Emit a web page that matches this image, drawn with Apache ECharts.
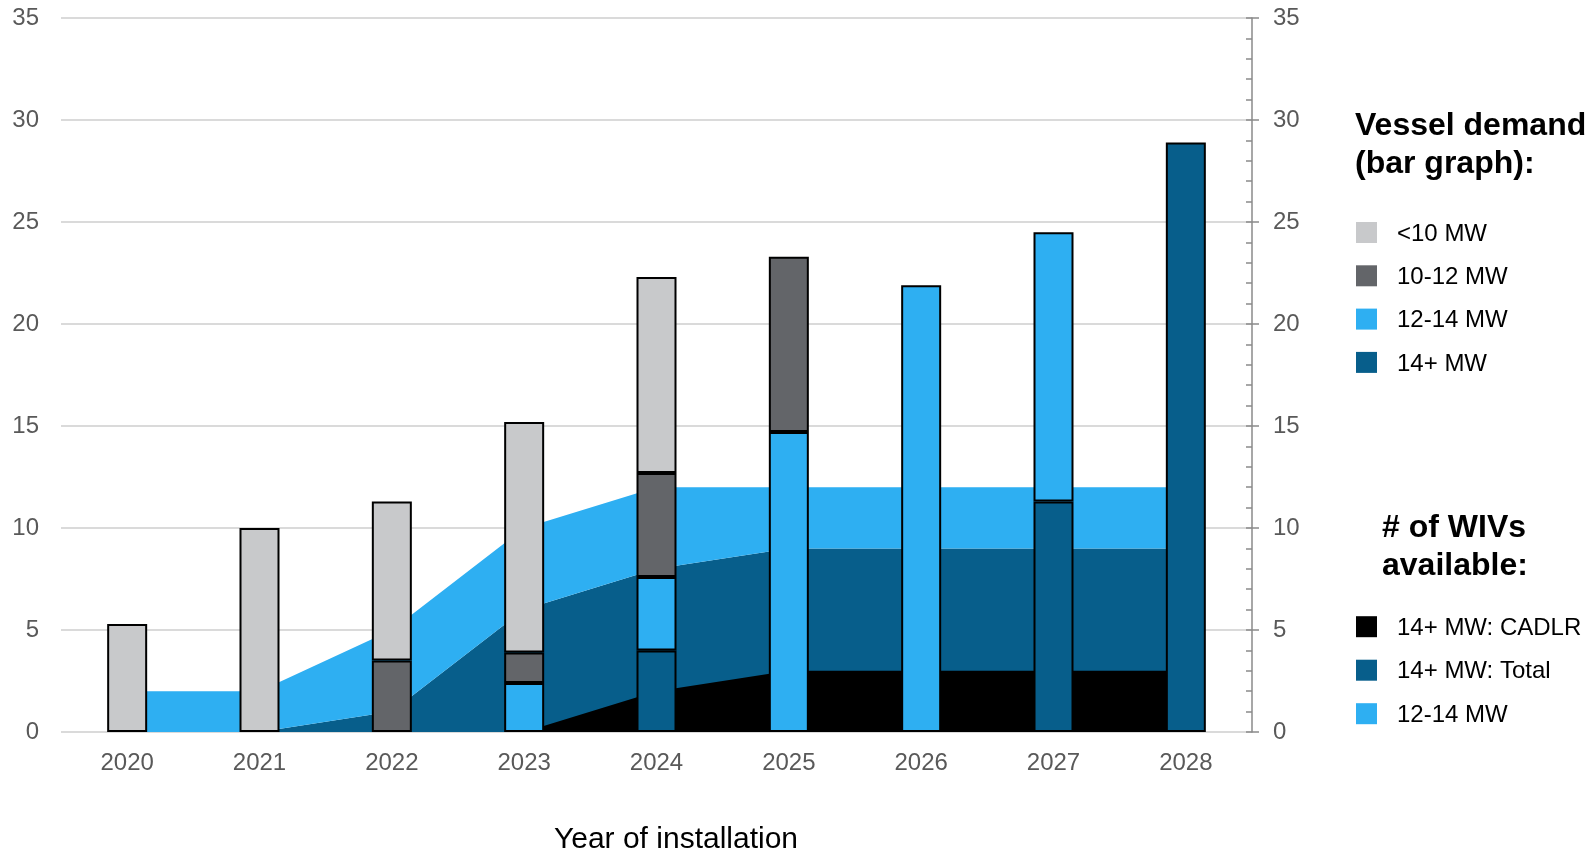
<!DOCTYPE html>
<html>
<head>
<meta charset="utf-8">
<title>Vessel demand vs WIVs available</title>
<script src="https://cdn.jsdelivr.net/npm/echarts@6/dist/echarts.min.js"></script>
<style>
  html, body { margin: 0; padding: 0; background: #ffffff; }
  #chart { width: 1587px; height: 851px; }
</style>
</head>
<body>
<div id="chart"></div>
<script>
// Installation years
const years = ['2020', '2021', '2022', '2023', '2024', '2025', '2026', '2027', '2028'];

// Vessel demand by turbine class (stacked bars); null = no demand in that class
const demandBelow10 = [5.3, 10, 7.8, 11.3, 9.6, null, null, null, null];
const demand10to12  = [null, null, 3.5, 1.5, 5.1, 8.6, null, null, null];
const demand12to14  = [null, null, null, 2.4, 3.6, 14.7, 21.9, 13.2, null];
const demand14plus  = [null, null, null, null, 4.0, null, null, 11.3, 28.9];

// Number of WIVs available (areas)
const wivCadlr   = [0, 0, 0, 0, 2, 3, 3, 3, 3];   // 14+ MW: CADLR
const wivTotal14 = [0, 0, 1, 6, 8, 9, 9, 9, 9];   // 14+ MW: Total (includes CADLR)
const wiv12to14  = [2, 2, 4, 4, 4, 3, 3, 3, 3];   // 12-14 MW, stacked on top of 14+ total

// Axis ticks
const yMin = 0, yMax = 35, yStep = 5;

// Legend labels
const demandLegend = ['<10 MW', '10-12 MW', '12-14 MW', '14+ MW'];
const wivLegend = ['14+ MW: CADLR', '14+ MW: Total', '12-14 MW'];

const C_LIGHTGREY = '#C8C9CB';
const C_DARKGREY = '#636569';
const C_LIGHTBLUE = '#2EAFF2';
const C_DARKBLUE = '#075E8B';
const C_BLACK = '#000000';
const FONT = '"Liberation Sans", Arial, sans-serif';
const AXIS_TEXT = '#595959';
const AXIS_LINE = '#8a8a8a';

const demandColors = [C_LIGHTGREY, C_DARKGREY, C_LIGHTBLUE, C_DARKBLUE];
const wivColors = [C_BLACK, C_DARKBLUE, C_LIGHTBLUE];

function barSeries(name, data, color) {
  return {
    name: name, type: 'bar', stack: 'demand', data: data,
    barWidth: 40, z: 3,
    itemStyle: { color: color, borderColor: '#000000', borderWidth: 2 }
  };
}
function areaSeries(name, data, color, stack, z) {
  return {
    name: name, type: 'line', data: data, stack: stack, z: z,
    symbol: 'none', showSymbol: false, smooth: false,
    lineStyle: { width: 0 }, itemStyle: { color: color },
    areaStyle: { color: color, opacity: 1 }
  };
}

// Legend blocks drawn as graphic elements
function legendBlock(title, titleX, titleY, labels, colors, firstY, step) {
  const els = [];
  title.forEach(function (line, i) {
    els.push({
      type: 'text', x: titleX, y: titleY + i * 38,
      style: { text: line, fill: '#000000', font: 'bold 32px ' + FONT, align: 'left', verticalAlign: 'middle' }
    });
  });
  labels.forEach(function (lab, i) {
    const cy = firstY + i * step;
    els.push({ type: 'rect', shape: { x: 1356, y: cy - 10.5, width: 21, height: 21 }, style: { fill: colors[i] } });
    els.push({
      type: 'text', x: 1397, y: cy + 1.5,
      style: { text: lab, fill: '#000000', font: '24px ' + FONT, align: 'left', verticalAlign: 'middle' }
    });
  });
  return els;
}

const graphics = []
  .concat(legendBlock(['Vessel demand', '(bar graph):'], 1355, 126, demandLegend, demandColors, 232.5, 43.3))
  .concat(legendBlock(['# of WIVs', 'available:'], 1382, 528.5, wivLegend, wivColors, 626.7, 43.5))
  .concat([{
    type: 'text', x: 676, y: 840,
    style: { text: 'Year of installation', fill: '#000000', font: '30px ' + FONT, align: 'center', verticalAlign: 'middle' }
  }]);

const chart = echarts.init(document.getElementById('chart'), null, { renderer: 'canvas' });
chart.setOption({
  animation: false,
  backgroundColor: '#ffffff',
  textStyle: { fontFamily: FONT },
  grid: { left: 61, right: 335, top: 18, bottom: 119, containLabel: false },
  xAxis: {
    type: 'category', data: years, boundaryGap: true,
    axisLine: { show: false }, axisTick: { show: false },
    axisLabel: { color: AXIS_TEXT, fontSize: 24, fontFamily: FONT, margin: 19 }
  },
  yAxis: [
    {
      type: 'value', min: yMin, max: yMax, interval: yStep, position: 'left',
      axisLine: { show: false }, axisTick: { show: false },
      axisLabel: { color: AXIS_TEXT, fontSize: 24, fontFamily: FONT, margin: 22, padding: [3, 0, 0, 0] },
      splitLine: { show: true, lineStyle: { color: '#dadada', width: 2 } }
    },
    {
      type: 'value', min: yMin, max: yMax, interval: yStep, position: 'right',
      axisLine: { show: true, lineStyle: { color: AXIS_LINE, width: 1.5 } },
      axisTick: { show: true, inside: true, length: 6, lineStyle: { color: AXIS_LINE, width: 1.5 } },
      minorTick: { show: true, splitNumber: 5, length: 6, lineStyle: { color: AXIS_LINE, width: 1.5 } },
      axisLabel: { color: AXIS_TEXT, fontSize: 24, fontFamily: FONT, margin: 21, padding: [3, 0, 0, 0] },
      splitLine: { show: false }
    },
    {
      type: 'value', min: yMin, max: yMax, interval: yStep, position: 'right',
      axisLine: { show: false },
      axisTick: { show: true, inside: false, length: 7, lineStyle: { color: AXIS_LINE, width: 1.5 } },
      axisLabel: { show: false },
      splitLine: { show: false }
    }
  ],
  series: [
    areaSeries('14+ MW: Total', wivTotal14, C_DARKBLUE, 'avail', 1),
    areaSeries('12-14 MW available', wiv12to14, C_LIGHTBLUE, 'avail', 1),
    areaSeries('14+ MW: CADLR', wivCadlr, C_BLACK, null, 2),
    barSeries('14+ MW', demand14plus, C_DARKBLUE),
    barSeries('12-14 MW', demand12to14, C_LIGHTBLUE),
    barSeries('10-12 MW', demand10to12, C_DARKGREY),
    barSeries('<10 MW', demandBelow10, C_LIGHTGREY)
  ],
  graphic: graphics
});
</script>
</body>
</html>
